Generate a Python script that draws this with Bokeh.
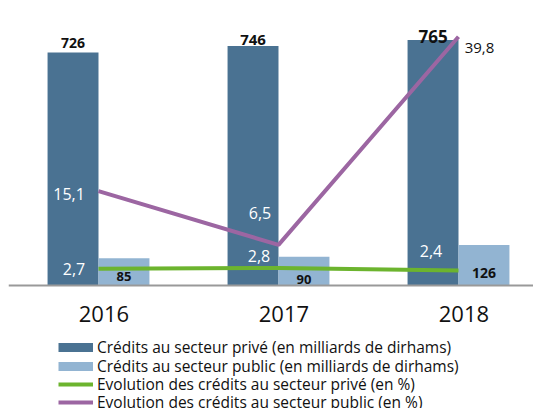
from bokeh.plotting import figure
from bokeh.models import Range1d, FixedTicker, Legend, LegendItem, ColumnDataSource, CustomJSTickFormatter
from bokeh.core.properties import value
from bokeh.embed import file_html
from bokeh.resources import INLINE

# ---- data ----
years = ["2016", "2017", "2018"]
prive = [726, 746, 765]            # milliards de dirhams
public = [85, 90, 126]             # milliards de dirhams
evol_prive = [2.7, 2.8, 2.4]       # %
evol_public = [15.1, 6.5, 39.8]    # %

pct_labels_prive = ["2,7", "2,8", "2,4"]
pct_labels_public = ["15,1", "6,5", "39,8"]
legend_labels = [
    "Crédits au secteur privé (en milliards de dirhams)",
    "Crédits au secteur public (en milliards de dirhams)",
    "Evolution des crédits au secteur privé (en %)",
    "Evolution des crédits au secteur public (en %)",
]

# ---- styles ----
DARK = "#4a7292"
LIGHT = "#92b4d2"
GREEN = "#6cb42e"
PURPLE = "#9c66a2"
FONT = "Open Sans"
BW = 0.283
top_sizes = ["14px", "15px", "17px"]
top_yoff = [-9, -6, -3]
pub_sizes = ["13px", "13px", "14px"]
pub_yoff = [-9, -6, -13]
lp_xoff = [1, 6, -2]
lp_yoff = [0, -12, -20]
legend_vy = [50, 31, 13, -5]   # legend row positions above frame bottom (px)
NAN = float("nan")

idx = list(range(len(years)))

p = figure(width=533, height=408, output_backend="svg", toolbar_location=None,
           x_range=Range1d(-0.5, 2.4167), y_range=Range1d(-383, 863),
           min_border_left=8, min_border_right=0, min_border_top=8, min_border_bottom=0)
p.outline_line_color = None
p.grid.visible = False
p.yaxis.visible = False
p.extra_y_ranges = {"pct": Range1d(-19.68, 44.32)}

src = ColumnDataSource(dict(
    x=idx, xd=[i - BW / 2 for i in idx], xl=[i + BW / 2 for i in idx],
    prive=prive, public=public, ep=evol_prive, eu=evol_public,
    prive_txt=[str(v) for v in prive], public_txt=[str(v) for v in public],
    lp=pct_labels_prive, top_sizes=top_sizes, top_yoff=top_yoff, pub_sizes=pub_sizes,
    pub_yoff=pub_yoff, lp_xoff=lp_xoff, lp_yoff=lp_yoff, zero=[0] * len(idx),
))

p.vbar(x="xd", top="prive", bottom="zero", width=BW, source=src, fill_color=DARK, line_color=None)
p.vbar(x="xl", top="public", bottom="zero", width=BW, source=src, fill_color=LIGHT, line_color=None)

lg = p.line(x="x", y="ep", source=src, line_color=GREEN, line_width=4, y_range_name="pct")
lu = p.line(x="x", y="eu", source=src, line_color=PURPLE, line_width=4, y_range_name="pct")

# value labels above private bars
p.text(x="xd", y="prive", text="prive_txt", source=src, text_align="center",
       text_baseline="alphabetic", y_offset="top_yoff", text_font=value(FONT), text_font_style="bold",
       text_font_size="top_sizes", text_color="#111111")
# value labels inside public bars
p.text(x="xl", y="zero", text="public_txt", source=src, text_align="center",
       text_baseline="middle", y_offset="pub_yoff", text_font=value(FONT),
       text_font_style="bold", text_font_size="pub_sizes", text_color="#111111")
# % labels
p.text(x="xd", y="ep", text="lp", source=src, text_align="center", text_baseline="middle",
       y_range_name="pct", x_offset="lp_xoff", y_offset="lp_yoff",
       text_font=value(FONT), text_font_size="16px", text_color="white")
p.text(x=[i - BW / 2 for i in idx[:2]], y=evol_public[:2], text=pct_labels_public[:2],
       text_align="center", text_baseline="middle", y_range_name="pct",
       x_offset=[-4, 7], y_offset=[3, -32],
       text_font=value(FONT), text_font_size="16px", text_color="white")
p.text(x=[idx[2]], y=[evol_public[2]], text=[pct_labels_public[2]], text_align="center",
       text_baseline="middle", y_range_name="pct", x_offset=21, y_offset=11,
       text_font=value(FONT), text_font_size="15px", text_color="#111111")

# x axis, drawn at y = 0 inside the frame
xa = p.xaxis[0]
xa.fixed_location = 0
xa.ticker = FixedTicker(ticks=[i + 0.03 for i in idx])
xa.formatter = CustomJSTickFormatter(args=dict(years=years), code="return years[Math.round(tick)]")
xa.axis_line_color = "#999999"
xa.axis_line_width = 2
xa.major_tick_line_color = None
xa.minor_tick_line_color = None
xa.major_tick_out = 0
xa.major_label_standoff = 20
xa.major_label_text_font = FONT
xa.major_label_text_font_size = "22px"
xa.major_label_text_color = "#111111"

# legend swatches (one legend per row for tight row spacing)
d1 = p.line(x=[NAN], y=[NAN], line_color=DARK, line_width=9)
d2 = p.line(x=[NAN], y=[NAN], line_color=LIGHT, line_width=9)
for lab, rend, vy in zip(legend_labels, [d1, d2, lg, lu], legend_vy):
    leg = Legend(items=[LegendItem(label=lab, renderers=[rend])],
                 location=(50, vy), padding=0, spacing=0, margin=0,
                 glyph_width=35, glyph_height=18, label_height=18, label_standoff=4,
                 label_text_font=FONT, label_text_font_size="15.5px", label_text_color="#111111",
                 border_line_color=None, background_fill_alpha=0)
    p.add_layout(leg, "center")

open("out.html", "w").write(file_html(p, INLINE))
